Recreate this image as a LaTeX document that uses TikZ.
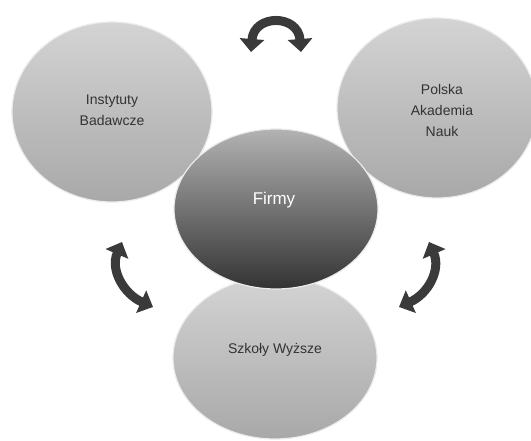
\documentclass[tikz,border=0pt]{standalone}
\usepackage{fontspec}
\setmainfont{Liberation Sans}
\usetikzlibrary{shapes.geometric,arrows.meta}
\definecolor{arrowgray}{HTML}{3A3A3A}
\definecolor{txtgray}{HTML}{333333}
\tikzset{
  outerball/.style={ellipse, draw=white!92!black, line width=1.2pt,
    minimum width=200pt, minimum height=180pt, inner sep=0pt,
    top color=black!17, bottom color=black!34},
  centerball/.style={ellipse, draw=white!92!black, line width=1.2pt,
    minimum width=204pt, minimum height=160pt, inner sep=0pt,
    top color=black!30, middle color=black!58, bottom color=black!80},
  lbl/.style={align=center, text=txtgray, font=\fontsize{14}{21}\selectfont},
  swap/.style={draw=arrowgray, line width=9pt,
    {Triangle[length=13pt,width=24pt]}-{Triangle[length=13pt,width=24pt]}}
}
\begin{document}
\begin{tikzpicture}[x=1pt,y=-1pt]
\useasboundingbox (0,0) rectangle (531,441);
\fill[white] (0,0) rectangle (531,441);
% outer balls
\node[outerball] (inst) at (112,112) {};
\node[outerball] (pan) at (437,108) {};
\node[outerball, minimum width=204pt, minimum height=162pt] (szk) at (275,358) {};
\node[centerball] (firmy) at (276,209) {};
% labels
\node[lbl] (tinst) at (112,110) {Instytuty\\Badawcze};
\node[lbl] (tpan) at (442,110) {Polska\\Akademia\\Nauk};
\node[lbl] (tszk) at (275,350) {Szkoły Wyższe};
\node[lbl, text=white, font=\fontsize{17}{20}\selectfont] (tfirmy) at (274,200) {Firmy};
% arrows
\coordinate (t1) at (251,52);
\coordinate (t2) at (301,52);
\coordinate (l1) at (122,242);
\coordinate (l2) at (153,307);
\coordinate (r1) at (429,242);
\coordinate (r2) at (399,307);
\draw[swap] (t1) .. controls (254,14) and (298,14) .. (t2);
\draw[swap] (l1) .. controls (110,270) and (124,294) .. (l2);
\draw[swap] (r1) .. controls (441,270) and (428,294) .. (r2);
\end{tikzpicture}
\end{document}
